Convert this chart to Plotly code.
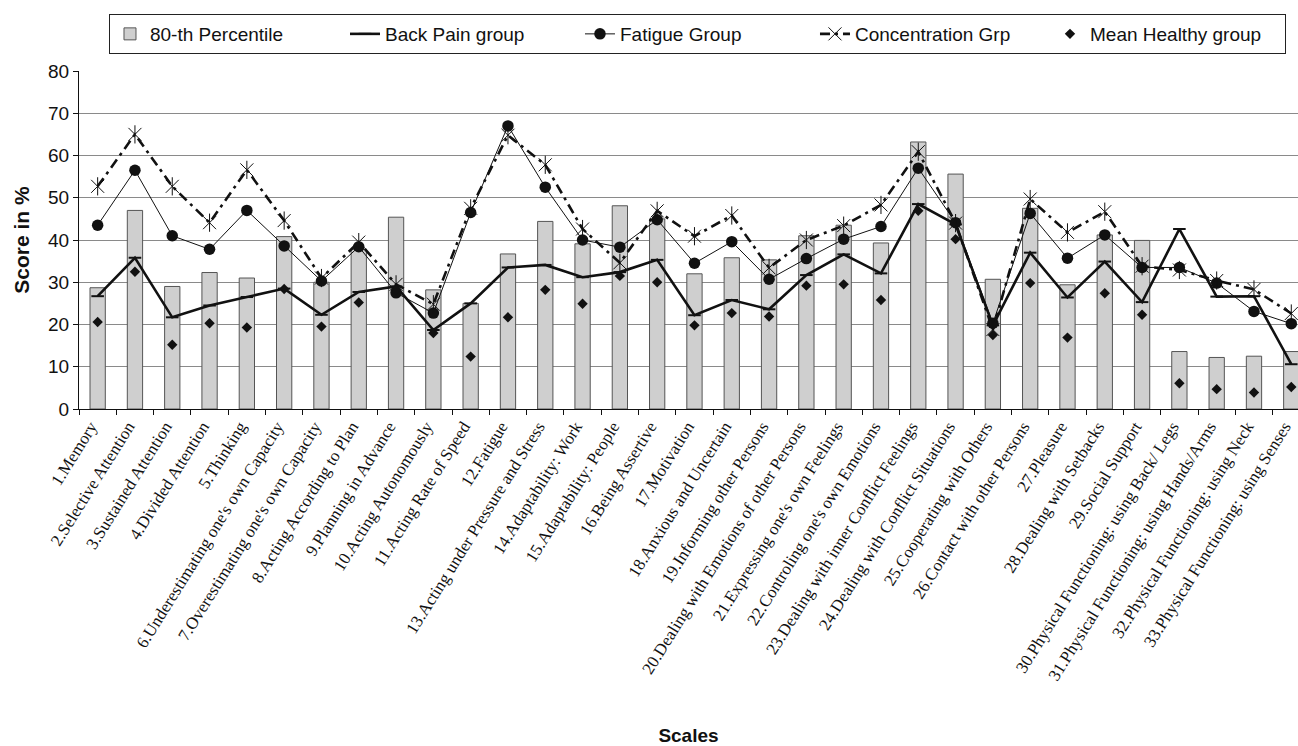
import plotly.graph_objects as go

categories = [
    "1.Memory", "2.Selective Attention", "3.Sustained Attention", "4.Divided Attention",
    "5.Thinking", "6.Underestimating one's own Capacity", "7.Overestimating one's own Capacity",
    "8.Acting According to Plan", "9.Planning in Advance", "10.Acting Autonomously",
    "11.Acting Rate of Speed", "12.Fatigue", "13.Acting under Pressure and Stress",
    "14.Adaptability: Work", "15.Adaptability: People", "16.Being Assertive", "17.Motivation",
    "18.Anxious and Uncertain", "19.Informing other Persons",
    "20.Dealing with Emotions of other Persons", "21.Expressing one's own Feelings",
    "22.Controling one's own Emotions", "23.Dealing with inner Conflict Feelings",
    "24.Dealing with Conflict Situations", "25.Cooperating with Others",
    "26.Contact with other Persons", "27.Pleasure", "28.Dealing with Setbacks",
    "29.Social Support", "30.Physical Functioning: using Back/ Legs",
    "31.Physical Functioning: using Hands/Arms", "32.Physical Functioning: using Neck",
    "33.Physical Functioning: using Senses",
]

percentile_80 = [28.7, 47.0, 29.0, 32.3, 31.0, 40.8, 30.0, 37.8, 45.4, 28.2,
                 25.0, 36.7, 44.4, 39.1, 48.1, 45.0, 32.0, 35.8, 35.3, 41.0,
                 43.5, 39.3, 63.2, 55.6, 30.7, 47.5, 29.4, 41.2, 39.9, 13.6,
                 12.2, 12.5, 13.6]

back_pain = [26.7, 35.8, 21.7, 24.5, 26.5, 28.5, 22.3, 27.7, 29.0, 18.7,
             25.0, 33.5, 34.1, 31.2, 32.4, 35.3, 22.2, 25.8, 23.6, 31.7,
             36.6, 32.1, 48.5, 43.7, 19.8, 37.0, 26.4, 34.9, 25.3, 42.6,
             26.6, 26.7, 10.6]

fatigue = [43.5, 56.5, 41.0, 37.8, 47.0, 38.6, 30.3, 38.4, 27.5, 22.7,
           46.5, 67.0, 52.5, 40.0, 38.3, 44.8, 34.5, 39.6, 30.7, 35.6,
           40.2, 43.2, 57.0, 44.1, 20.3, 46.3, 35.7, 41.2, 33.5, 33.5,
           29.8, 23.1, 20.2]

concentration = [52.7, 65.0, 52.7, 44.1, 56.6, 44.6, 31.0, 39.5, 29.5, 24.8,
                 47.5, 64.8, 57.8, 42.6, 34.6, 46.9, 40.9, 45.8, 33.4, 40.0,
                 43.4, 48.3, 60.9, 44.0, 18.8, 49.7, 41.8, 46.7, 33.8, 32.9,
                 30.4, 28.3, 22.6]

mean_healthy = [20.6, 32.5, 15.2, 20.3, 19.3, 28.4, 19.5, 25.2, 28.2, 18.0,
                12.4, 21.7, 28.2, 24.9, 31.5, 30.0, 19.8, 22.7, 21.9, 29.2,
                29.5, 25.8, 46.9, 40.2, 17.5, 29.8, 16.9, 27.4, 22.3, 6.1,
                4.7, 3.9, 5.2]

y_ticks = [0, 10, 20, 30, 40, 50, 60, 70, 80]

fig = go.Figure()

fig.add_trace(go.Bar(
    x=categories, y=percentile_80, name="80-th Percentile",
    marker=dict(color="#cfcfcf", line=dict(color="#555555", width=1)),
    width=0.41,
))

fig.add_trace(go.Scatter(
    x=categories, y=back_pain, name="Back Pain group", mode="lines+markers",
    line=dict(color="#111111", width=2.6),
    marker=dict(symbol="line-ew", size=9, color="#111111",
                line=dict(color="#111111", width=2)),
))

fig.add_trace(go.Scatter(
    x=categories, y=fatigue, name="Fatigue Group", mode="lines+markers",
    line=dict(color="#111111", width=1),
    marker=dict(symbol="circle", size=11.5, color="#111111"),
))

fig.add_trace(go.Scatter(
    x=categories, y=concentration, name="Concentration Grp", mode="lines+markers",
    line=dict(color="#111111", width=2.6, dash="10px,5px,3px,5px"),
    marker=dict(symbol="x-thin", size=13, color="#111111",
                line=dict(color="#111111", width=1)),
))

fig.add_trace(go.Scatter(
    x=categories, y=concentration, name="Concentration Grp", mode="markers",
    showlegend=False,
    marker=dict(symbol="line-ns", size=13, color="#111111",
                line=dict(color="#111111", width=1)),
))

fig.add_trace(go.Scatter(
    x=categories, y=mean_healthy, name="Mean Healthy group", mode="markers",
    marker=dict(symbol="diamond", size=8, color="#111111"),
))

fig.update_layout(
    width=1298, height=746,
    margin=dict(l=79, r=0, t=71, b=337, autoexpand=False),
    paper_bgcolor="white", plot_bgcolor="white",
    font=dict(family="Liberation Sans, Arial, sans-serif", color="#111111"),
    showlegend=True,
    legend=dict(
        orientation="h", x=0.0246, xanchor="left", y=1.1686, yanchor="top",
        bordercolor="#222222", borderwidth=1, bgcolor="white",
        font=dict(size=19, family="Liberation Sans, Arial, sans-serif"),
        entrywidth=190, entrywidthmode="pixels",
        traceorder="normal",
        tracegroupgap=0,
    ),
    xaxis=dict(
        type="category",
        range=[-0.5, 32.18],
        automargin=False,
        tickson="boundaries",
        ticks="outside", ticklen=5, tickcolor="#111111",
        showline=True, linecolor="#111111", linewidth=1,
        showgrid=False,
        tickangle=-58,
        ticklabelshift=-7,
        tickfont=dict(family="Liberation Serif, Times New Roman, serif", size=17, color="#111111"),
        title=dict(text="<b>Scales</b>", font=dict(size=19, family="Liberation Sans, Arial, sans-serif"),
                   standoff=45),
    ),
    yaxis=dict(
        range=[0, 80],
        automargin=False,
        tickvals=y_ticks,
        ticks="outside", ticklen=5, tickcolor="#111111",
        showline=True, linecolor="#111111", linewidth=1,
        showgrid=True, gridcolor="#8a8a8a", gridwidth=1,
        zeroline=False,
        tickfont=dict(size=19, family="Liberation Sans, Arial, sans-serif", color="#111111"),
        title=dict(text="<b>Score in %</b>", font=dict(size=21, family="Liberation Sans, Arial, sans-serif"),
                   standoff=12),
    ),
)

fig.write_html("out.html", config={"displayModeBar": False},
               post_script="document.body.style.margin='0px';")
